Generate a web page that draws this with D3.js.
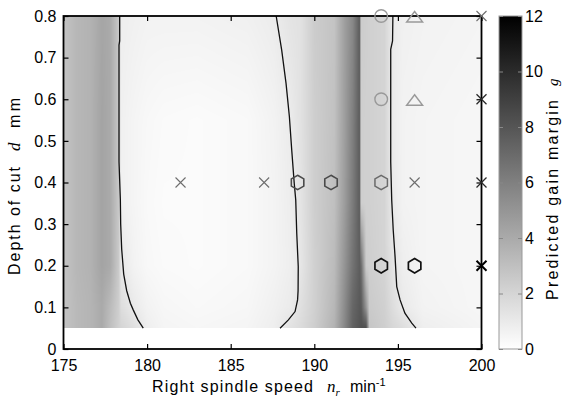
<!DOCTYPE html>
<html>
<head>
<meta charset="utf-8">
<script src="https://cdn.jsdelivr.net/npm/d3@7"></script>
<style>
  body { margin: 0; background: #fff; }
  svg { display: block; }
</style>
</head>
<body>
<div id="chart"></div>
<script>
// ---- data ----
// speed grid (min^-1) and depth rows (mm) of the gain margin map
const speeds = [175, 175.8, 176.6, 177.3, 177.8, 178.3, 178.45, 179.2, 180, 181, 183, 186, 187.6, 188.6,
  189.2, 190.0, 191.2, 191.8, 192.3, 192.7, 192.8, 193.1, 193.3, 194.2, 194.7, 195.3, 196.5, 200];
const depths = [0.05, 0.1, 0.2, 0.35, 0.55, 0.8];

const gainAt005 = [2.8, 3.3, 3.5, 4.0, 3.0, 2.2, 2.0, 1.5, 0.8, 0.5, 0.4, 0.5, 0.8, 1.4, 1.7, 2.3, 3.6, 5.6, 7.4, 8.0, 8.2, 8.3, 2.7, 2.3, 1.9, 1.6, 0.8, 0.5];
const gainAt010 = [2.8, 3.3, 3.5, 4.0, 3.2, 2.3, 1.6, 1.0, 0.6, 0.4, 0.3, 0.4, 0.7, 0.95, 1.5, 2.2, 3.4, 5.4, 7.2, 7.8, 7.8, 5.0, 2.5, 2.2, 1.6, 1.0, 0.6, 0.4];
const gainAt020 = [2.8, 3.4, 3.6, 4.3, 4.0, 2.5, 1.1, 0.6, 0.35, 0.25, 0.2, 0.3, 0.55, 0.8, 1.2, 2.2, 3.2, 5.0, 6.6, 7.6, 7.0, 2.4, 2.3, 2.0, 1.3, 0.8, 0.5, 0.4];
const gainAt035 = [2.8, 3.4, 3.6, 4.3, 4.0, 2.6, 0.7, 0.5, 0.3, 0.2, 0.2, 0.3, 0.55, 0.85, 1.3, 2.3, 3.0, 4.6, 6.2, 7.6, 2.3, 2.2, 2.2, 2.0, 1.0, 0.6, 0.5, 0.4];
const gainAt055 = [2.8, 3.4, 3.6, 4.3, 4.0, 2.6, 0.7, 0.5, 0.35, 0.25, 0.2, 0.3, 0.6, 0.95, 1.4, 2.3, 2.9, 4.5, 6.0, 7.6, 2.3, 2.2, 2.2, 2.0, 0.9, 0.6, 0.5, 0.4];
const gainAt080 = [2.8, 3.4, 3.6, 4.2, 4.0, 2.6, 0.8, 0.7, 0.6, 0.6, 0.6, 0.7, 0.9, 1.3, 1.4, 2.4, 2.8, 4.5, 5.6, 7.6, 2.4, 2.3, 2.2, 2.0, 1.0, 0.7, 0.6, 0.5];
const gainRows = [gainAt005, gainAt010, gainAt020, gainAt035, gainAt055, gainAt080];

// g = 1 stability boundaries, [speed, depth]
const contourLeft = [[178.36, 0.8], [178.36, 0.74], [178.32, 0.73], [178.32, 0.45], [178.4, 0.36], [178.42, 0.3],
  [178.48, 0.24], [178.6, 0.18], [178.78, 0.14], [179.0, 0.11], [179.17, 0.094], [179.45, 0.07], [179.77, 0.05]];
const contourMid = [[187.72, 0.8], [188.05, 0.718], [188.31, 0.638], [188.51, 0.558], [188.65, 0.478], [188.8, 0.398],
  [188.89, 0.358], [188.95, 0.278], [189.04, 0.198], [189.03, 0.14], [189.0, 0.118], [188.85, 0.09], [188.45, 0.07], [187.95, 0.05]];
const contourRight = [[194.7, 0.8], [194.68, 0.74], [194.57, 0.72], [194.57, 0.45], [194.63, 0.358], [194.72, 0.286],
  [194.83, 0.222], [194.93, 0.15], [195.13, 0.118], [195.42, 0.086], [195.83, 0.062], [196.08, 0.05]];

// cutting test points
const crossGray = [[182, 0.4], [187, 0.4], [196, 0.4], [200, 0.8]];
const crossDark = [[200, 0.6], [200, 0.4]];
const crossBlack = [[200, 0.2]];
const hexDark = [[189, 0.4], [191, 0.4]];
const hexGray = [[194, 0.4]];
const hexBlack = [[194, 0.2], [196, 0.2]];
const circleGray = [[194, 0.8], [194, 0.6]];
const triGray = [[196, 0.8], [196, 0.6]];

const xTicks = [175, 180, 185, 190, 195, 200];
const yTicks = [0, 0.1, 0.2, 0.3, 0.4, 0.5, 0.6, 0.7, 0.8];
const cbTicks = [0, 2, 4, 6, 8, 10, 12];

// ---- layout ----
const W = 563, H = 399;
const x = d3.scaleLinear([175, 200], [63.5, 481.5]);
const y = d3.scaleLinear([0, 0.8], [349, 16]);
const cb = d3.scaleLinear([0, 12], [349, 16]);
const gray = d3.scaleLinear([0, 12], ["#ffffff", "#000000"]);

const svg = d3.select("#chart").append("svg")
  .attr("width", W).attr("height", H)
  .attr("font-family", "Arial, 'Liberation Sans', sans-serif")
  .attr("font-size", 16);

// gain margin map, bilinear shading between the grid values
const px0 = Math.round(x(175)), px1 = Math.round(x(200));
const py0 = Math.round(y(0.8)), py1 = Math.round(y(0.05));
const cw = px1 - px0, ch = py1 - py0;
const canvas = document.createElement("canvas");
canvas.width = cw; canvas.height = ch;
const ctx = canvas.getContext("2d");
const img = ctx.createImageData(cw, ch);
const locate = (arr, v) => {
  const i = Math.max(0, Math.min(arr.length - 2, d3.bisectRight(arr, v) - 1));
  const t = Math.max(0, Math.min(1, (v - arr[i]) / (arr[i + 1] - arr[i])));
  return [i, t];
};
for (let r = 0; r < ch; r++) {
  const [j, tj] = locate(depths, y.invert(py0 + r + 0.5));
  for (let c = 0; c < cw; c++) {
    const [i, ti] = locate(speeds, x.invert(px0 + c + 0.5));
    const a = gainRows[j], b = gainRows[j + 1];
    const v = (1 - tj) * ((1 - ti) * a[i] + ti * a[i + 1]) + tj * ((1 - ti) * b[i] + ti * b[i + 1]);
    const col = d3.rgb(gray(v));
    const k = (r * cw + c) * 4;
    img.data[k] = col.r; img.data[k + 1] = col.g; img.data[k + 2] = col.b; img.data[k + 3] = 255;
  }
}
ctx.putImageData(img, 0, 0);
svg.append("image")
  .attr("href", canvas.toDataURL())
  .attr("x", px0).attr("y", py0)
  .attr("width", cw).attr("height", ch);

// contours
const line = d3.line().x(d => x(d[0])).y(d => y(d[1]));
svg.append("g")
  .attr("fill", "none").attr("stroke", "#111").attr("stroke-width", 1.3)
  .selectAll("path")
  .data([contourLeft, contourMid, contourRight])
  .join("path")
  .attr("d", line);

// axes (inward ticks, MATLAB style)
const styleAxis = g => {
  g.select(".domain").remove();
  g.selectAll(".tick line").attr("stroke", "#000").attr("stroke-width", 1.2);
  g.selectAll(".tick text").attr("fill", "#000").attr("font-size", 16)
    .attr("font-family", "Arial, 'Liberation Sans', sans-serif");
};
svg.append("g").attr("transform", `translate(0,${y(0)})`)
  .call(d3.axisBottom(x).tickValues(xTicks).tickSize(-5).tickPadding(11))
  .call(styleAxis);
svg.append("g").attr("transform", `translate(0,${y(0.8)})`)
  .call(d3.axisTop(x).tickValues(xTicks).tickSize(-5).tickFormat(""))
  .call(styleAxis);
svg.append("g").attr("transform", `translate(${x(175)},0)`)
  .call(d3.axisLeft(y).tickValues(yTicks).tickSize(-5).tickPadding(7)
    .tickFormat(d => d === 0 ? "0" : d.toFixed(1)))
  .call(styleAxis);
svg.append("g").attr("transform", `translate(${x(200)},0)`)
  .call(d3.axisRight(y).tickValues(yTicks).tickSize(-5).tickFormat(""))
  .call(styleAxis);

svg.append("rect")
  .attr("x", x(175)).attr("y", y(0.8))
  .attr("width", x(200) - x(175)).attr("height", y(0) - y(0.8))
  .attr("fill", "none").attr("stroke", "#000").attr("stroke-width", 1.8);

// markers
const hexPath = r => {
  const p = d3.path();
  for (let k = 0; k < 6; k++) {
    const a = Math.PI / 3 * k - Math.PI / 2;
    if (k === 0) p.moveTo(r * Math.cos(a), r * Math.sin(a));
    else p.lineTo(r * Math.cos(a), r * Math.sin(a));
  }
  p.closePath();
  return p.toString();
};
const crossPath = s => `M${-s},${-s}L${s},${s}M${-s},${s}L${s},${-s}`;
const triPath = "M0,-4.5L8,6L-8,6Z";
const circPath = d3.symbol(d3.symbolCircle, Math.PI * 6.3 * 6.3)();

const drawMarks = (data, d, color, width) => {
  svg.append("g")
    .selectAll("path")
    .data(data)
    .join("path")
    .attr("transform", p => `translate(${x(p[0])},${y(p[1])})`)
    .attr("d", d)
    .attr("fill", "none")
    .attr("stroke", color)
    .attr("stroke-width", width);
};
drawMarks(crossGray, crossPath(5), "#6e6e6e", 1.1);
drawMarks(crossDark, crossPath(5), "#2a2a2a", 1.3);
drawMarks(crossBlack, crossPath(5), "#000", 2);
drawMarks(hexDark, hexPath(7.2), "#4a4a4a", 1.6);
drawMarks(hexGray, hexPath(7.2), "#6a6a6a", 1.5);
drawMarks(hexBlack, hexPath(7.2), "#111", 1.7);
drawMarks(circleGray, circPath, "#999", 1.4);
drawMarks(triGray, triPath, "#999", 1.4);

// colorbar
const defs = svg.append("defs");
const grad = defs.append("linearGradient").attr("id", "cbgrad")
  .attr("x1", 0).attr("y1", 1).attr("x2", 0).attr("y2", 0);
grad.selectAll("stop")
  .data(cbTicks)
  .join("stop")
  .attr("offset", d => d / 12)
  .attr("stop-color", d => gray(d));
const cbX0 = 499, cbX1 = 522;
svg.append("rect")
  .attr("x", cbX0).attr("y", cb(12))
  .attr("width", cbX1 - cbX0).attr("height", cb(0) - cb(12))
  .attr("fill", "url(#cbgrad)").attr("stroke", "#999").attr("stroke-width", 1);
const cbAxis = svg.append("g").attr("transform", `translate(${cbX1},0)`)
  .call(d3.axisRight(cb).tickValues(cbTicks).tickSize(-4).tickPadding(3));
cbAxis.select(".domain").remove();
cbAxis.selectAll(".tick line").attr("stroke", "#888");
cbAxis.selectAll(".tick text").attr("fill", "#000").attr("font-size", 16)
  .attr("font-family", "Arial, 'Liberation Sans', sans-serif");
svg.append("g").attr("transform", `translate(${cbX0},0)`)
  .call(d3.axisLeft(cb).tickValues(cbTicks).tickSize(-4).tickFormat(""))
  .call(g => g.select(".domain").remove())
  .selectAll(".tick line").attr("stroke", "#888");

// axis titles
const serif = "'Liberation Serif', 'Times New Roman', serif";
const xl = svg.append("text").attr("x", 152).attr("y", 392).attr("fill", "#000");
xl.append("tspan").attr("textLength", 161).attr("lengthAdjust", "spacing").text("Right spindle speed");
xl.append("tspan").attr("x", 327).attr("font-family", serif).attr("font-style", "italic").attr("font-size", 17).text("n");
xl.append("tspan").attr("font-family", serif).attr("font-style", "italic").attr("font-size", 11).attr("dy", 4).text("r");
xl.append("tspan").attr("x", 350).attr("dy", -4).text("min");
xl.append("tspan").attr("font-size", 11).attr("dy", -6).text("-1");

const yl = svg.append("g").attr("transform", "translate(20,0) rotate(-90)");
yl.append("text").attr("x", -275).attr("y", 0).attr("textLength", 108).attr("lengthAdjust", "spacing").text("Depth of cut");
yl.append("text").attr("x", -151).attr("y", 0).attr("font-family", serif).attr("font-style", "italic").attr("font-size", 17).text("d");
yl.append("text").attr("x", -128).attr("y", 0).attr("textLength", 30).attr("lengthAdjust", "spacing").text("mm");

const cl = svg.append("g").attr("transform", "translate(558,0) rotate(-90)");
cl.append("text").attr("x", -300).attr("y", 0).attr("textLength", 200).attr("lengthAdjust", "spacing").text("Predicted gain margin");
cl.append("text").attr("x", -86).attr("y", 0).attr("font-family", serif).attr("font-style", "italic").attr("font-size", 15).text("g");
</script>
</body>
</html>
